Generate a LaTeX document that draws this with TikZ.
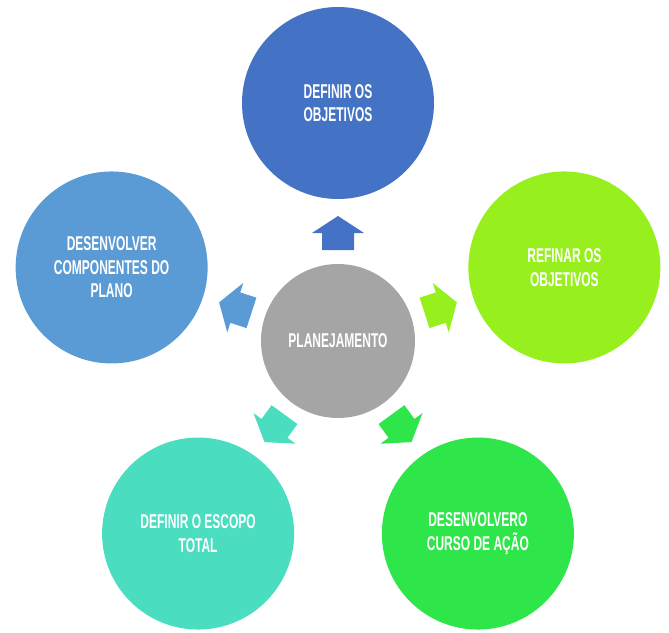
\documentclass[tikz,border=0pt]{standalone}
\usepackage{fontspec}
\setmainfont{Liberation Sans}[FakeStretch=0.6]
\definecolor{cTop}{HTML}{4472C4}
\definecolor{cRight}{HTML}{97F01E}
\definecolor{cBR}{HTML}{2EE64A}
\definecolor{cBL}{HTML}{4ADDC0}
\definecolor{cLeft}{HTML}{5B9BD5}
\definecolor{cCenter}{HTML}{A5A5A5}
\tikzset{
  bubble/.style={circle, minimum size=192pt, inner sep=0pt, text=white, align=center,
    font=\fontsize{20}{23.5}\selectfont\bfseries},
  hub/.style={circle, minimum size=154pt, inner sep=0pt, text=white, align=center,
    font=\fontsize{20}{23.5}\selectfont\bfseries, fill=cCenter},
}
\newcommand{\housearrow}[2]{%
  \fill[#2, rotate around={#1-90:(c)}] ($(c)+(-16pt,91pt)$) -- ($(c)+(16pt,91pt)$) -- ($(c)+(16pt,108pt)$) -- ($(c)+(26pt,108pt)$) -- ($(c)+(0pt,125pt)$) -- ($(c)+(-26pt,108pt)$) -- ($(c)+(-16pt,108pt)$) -- cycle;}
\usetikzlibrary{calc}
\begin{document}
\begin{tikzpicture}[x=1pt,y=-1pt]
\useasboundingbox (0,0) rectangle (669,632);
\coordinate (c) at (338,341);
\node[hub] (hub) at (c) {PLANEJAMENTO};
\node[bubble, fill=cTop] (top) at ($(c)+(90:238pt)$) {DEFINIR OS\\OBJETIVOS};
\node[bubble, fill=cRight] (right) at ($(c)+(18:238pt)$) {REFINAR OS\\OBJETIVOS};
\node[bubble, fill=cBR] (br) at ($(c)+(-54:238pt)$) {DESENVOLVERO\\CURSO DE AÇÃO};
\node[bubble, fill=cBL] (bl) at ($(c)+(-126:238pt)$) {DEFINIR O ESCOPO\\TOTAL};
\node[bubble, fill=cLeft] (left) at ($(c)+(162:238pt)$) {DESENVOLVER\\COMPONENTES DO\\PLANO};
\housearrow{90}{cTop}
\housearrow{18}{cRight}
\housearrow{-54}{cBR}
\housearrow{-126}{cBL}
\housearrow{162}{cLeft}
\end{tikzpicture}
\end{document}
